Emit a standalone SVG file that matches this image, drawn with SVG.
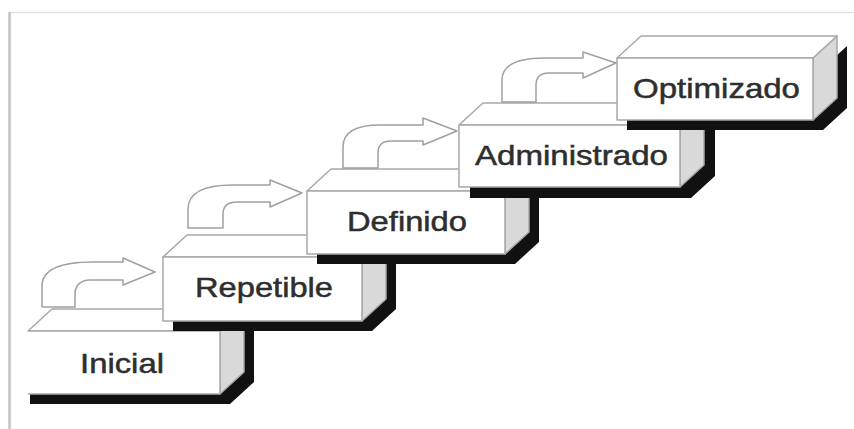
<svg xmlns="http://www.w3.org/2000/svg" width="854" height="429" viewBox="0 0 854 429">
<style>
.shadow{fill:#111;}
.face{fill:#fff;stroke:#a8a8a8;stroke-width:1.5;stroke-linejoin:round;}
.side{fill:#d9d9d9;stroke:#a8a8a8;stroke-width:1.5;stroke-linejoin:round;}
.arrow{fill:#fff;stroke:#a0a0a0;stroke-width:1.5;stroke-linejoin:round;}
.label{font-family:"Liberation Sans",Arial,sans-serif;font-size:28px;fill:#2e2e2e;stroke:#2e2e2e;stroke-width:0.5;}
</style>
<rect width="854" height="429" fill="#fff"/>
<g id="frame">
<line x1="9" y1="12.5" x2="854" y2="12.5" stroke="#e2e2e2" stroke-width="1.5"/>
<line x1="9.5" y1="12" x2="9.5" y2="429" stroke="#c4c4c4" stroke-width="2.5"/>
</g>
<g id="inicial">
<polygon class="shadow" points="30,341 230,341 254,319 254,382 230,404 30,404"/>
<polygon class="side" points="220,331 244,309 244,372 220,394"/>
<polygon class="face" points="28,331 52,309 244,309 220,331"/>
<path class="face" d="M28,331 H220 V394 H28"/>
<text class="label" x="80" y="373" textLength="84" lengthAdjust="spacingAndGlyphs">Inicial</text>
</g>
<g id="repetible">
<polygon class="shadow" points="173,267 372,267 396,245 396,309 372,331 173,331"/>
<polygon class="side" points="362,257 386,235 386,299 362,321"/>
<polygon class="face" points="163,257 187,235 386,235 362,257"/>
<rect class="face" x="163" y="257" width="199" height="64"/>
<text class="label" x="195" y="297" textLength="138" lengthAdjust="spacingAndGlyphs">Repetible</text>
</g>
<g id="definido">
<polygon class="shadow" points="317,201 515,201 539,179 539,242 515,264 317,264"/>
<polygon class="side" points="505,191 529,169 529,232 505,254"/>
<polygon class="face" points="307,191 331,169 529,169 505,191"/>
<rect class="face" x="307" y="191" width="198" height="63"/>
<text class="label" x="347" y="231" textLength="120" lengthAdjust="spacingAndGlyphs">Definido</text>
</g>
<g id="administrado">
<polygon class="shadow" points="470,136 691,136 715,114 715,176 691,198 470,198"/>
<polygon class="side" points="680,125 704,103 704,165 680,187"/>
<polygon class="face" points="459,125 483,103 704,103 680,125"/>
<rect class="face" x="459" y="125" width="221" height="62"/>
<text class="label" x="475" y="165" textLength="193" lengthAdjust="spacingAndGlyphs">Administrado</text>
</g>
<g id="optimizado">
<polygon class="shadow" points="627,68 823,68 847,46 847,108 823,130 627,130"/>
<polygon class="side" points="813,58 837,36 837,98 813,120"/>
<polygon class="face" points="617,58 641,36 837,36 813,58"/>
<rect class="face" x="617" y="58" width="196" height="62"/>
<text class="label" x="633" y="98" textLength="167" lengthAdjust="spacingAndGlyphs">Optimizado</text>
</g>
<g id="connectors">
<path class="arrow" d="M42,307 V286 C42,270 60,262 93,262 H123 V258 L155,272 L123,285 V280 H90 C81,280 75,285 75,294 V307 Z"/>
<path class="arrow" d="M188,228 V209 C188,193 204,185 233,185 H270 V180 L302,193 L270,207 V202 H237 C228,202 223,206 223,214 V228 Z"/>
<path class="arrow" d="M343,168 V147 C343,132 356,125 380,125 H423 V118 L457,131 L423,145 V141 H391 C383,141 378,145 378,153 V168 Z"/>
<path class="arrow" d="M502,102 V80 C502,65 518,58 545,58 H583 V52 L616,63 L583,78 V73 H549 C541,73 536,77 536,85 V102 Z"/>
</g>
</svg>
